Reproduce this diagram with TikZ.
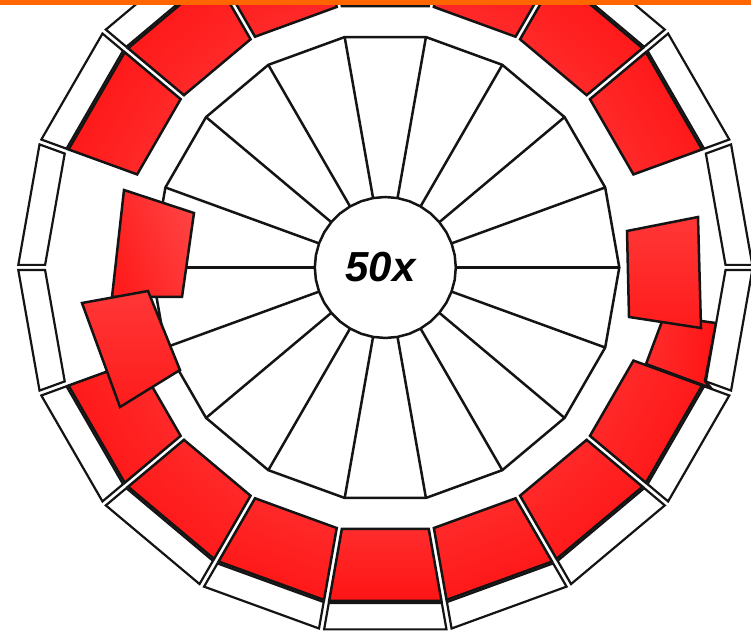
\documentclass[tikz,border=0pt]{standalone}
\usepackage{fontspec}
\setmainfont{Liberation Sans}
\usetikzlibrary{calc}
\definecolor{barorange}{RGB}{255,102,0}
\definecolor{redlight}{RGB}{255,44,44}
\definecolor{reddeep}{RGB}{255,20,20}
\definecolor{blocklight}{RGB}{255,66,66}
\definecolor{blockdeep}{RGB}{255,28,28}
\definecolor{inkline}{RGB}{20,20,20}
\newcommand{\cellpoly}[4]{($(#1:#3)+({#1+90}:2.6)$) -- ($(#1:#4)+({#1+90}:2.6)$) -- ($(#2:#4)+({#2-90}:2.6)$) -- ($(#2:#3)+({#2-90}:2.6)$) -- cycle}
\tikzset{
  wheelline/.style={draw=inkline,line width=2.5pt},
  ringcell/.style={draw=inkline,line width=2.2pt,fill=white},
  redcell/.style={draw=inkline,line width=2.5pt,top color=redlight,bottom color=reddeep},
  redblock/.style={draw=inkline,line width=2.5pt,top color=blocklight,bottom color=blockdeep},
}
\begin{document}
\begin{tikzpicture}[x=1pt,y=1pt]
\useasboundingbox (0,0) rectangle (751,632);
\fill[white] (0,0) rectangle (751,632);
\begin{scope}
\clip (0,0) rectangle (751,632);
\begin{scope}[shift={(385.3,364.5)}]
  % inner wheel
  \draw[wheelline] (0:234) \foreach \a in {20,40,...,340} { -- (\a:234) } -- cycle;
  \foreach \a in {0,20,...,340} { \draw[wheelline] (\a:70.5) -- (\a:234); }
  \draw[wheelline,fill=white] (0:70.5) \foreach \a in {10,20,...,350} { -- (\a:70.5) } -- cycle;
\end{scope}
% slightly shifted red cell under the outer ring
\path[redcell,shading angle=80] (664,316) -- (716,309) -- (705,251) -- (711,244) -- (646,268) -- cycle;
\begin{scope}[shift={(385.3,364.5)}]
  % outer ring
  \foreach \a [evaluate=\a as \b using \a+20] in {0,20,...,340} {
    \draw[ringcell] \cellpoly{\a}{\b}{340.2}{367};
  }
  % red cells in place
  \foreach \a [evaluate=\a as \b using \a+20, evaluate=\a as \s using \a+100] in {20,40,60,80,100,120,140,200,220,240,260,280,300,320} {
    \path[redcell,shading angle=\s] \cellpoly{\a}{\b}{265}{338};
  }
\end{scope}
% displaced red cells
\path[redblock,shading angle=95,top color=redlight!95!white] (627,401) -- (698,415) -- (701,304) -- (629,315) -- cycle;
\path[redblock,shading angle=290] (124,442) -- (194,419) -- (182,335) -- (112,335) -- cycle;
\path[redblock,shading angle=250,top color=redlight!95!white] (82,329) -- (148,341) -- (180,262) -- (120,225) -- cycle;
\end{scope}
\node[font=\fontsize{42}{42}\selectfont\bfseries\itshape,inner sep=0pt] (label) at (380.5,365) {50x};
\fill[barorange] (0,627) rectangle (751,632);
\end{tikzpicture}
\end{document}
